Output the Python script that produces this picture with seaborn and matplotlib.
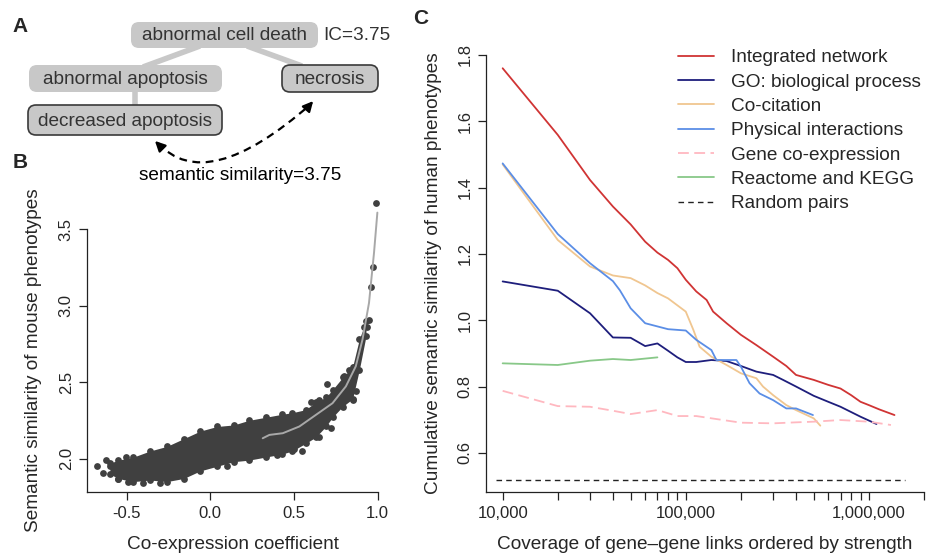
import numpy as np
import pandas as pd
import matplotlib
matplotlib.use("Agg")
import matplotlib.pyplot as plt
import seaborn as sns
from matplotlib.patches import FancyBboxPatch, PathPatch
from matplotlib.path import Path
from matplotlib.ticker import FixedLocator, FixedFormatter, NullFormatter

# ---------------- Panel B data ----------------
core_x = [-0.60, -0.55, -0.46, -0.36, -0.26, -0.16, -0.06, 0.04, 0.14, 0.23, 0.33,
          0.43, 0.49, 0.57, 0.63, 0.69, 0.73, 0.79, 0.85, 0.89, 0.93]
core_lo = [1.90, 1.87, 1.85, 1.86, 1.85, 1.87, 1.92, 1.95, 1.98, 1.99, 2.01,
           2.03, 2.05, 2.10, 2.14, 2.21, 2.27, 2.34, 2.39, 2.58, 2.80]
core_hi = [1.97, 1.99, 2.01, 2.05, 2.08, 2.13, 2.18, 2.21, 2.22, 2.25, 2.27,
           2.29, 2.30, 2.32, 2.37, 2.40, 2.45, 2.53, 2.60, 2.78, 2.90]
out_x = [-0.675, -0.643, -0.623, -0.60, -0.55, -0.49, -0.505, -0.40, -0.30, 0.10,
         0.40, 0.50, 0.55, 0.65, 0.72, 0.60, 0.65, 0.70, 0.80, 0.83, 0.853, 0.869,
         0.86, 0.92, 0.935, 0.948, 0.958, 0.972, 0.988]
out_y = [1.954, 1.904, 1.991, 1.954, 1.870, 1.850, 2.013, 1.840, 1.840, 1.950,
         2.024, 2.061, 2.050, 2.144, 2.200, 2.370, 2.380, 2.489, 2.540, 2.580, 2.384, 2.439,
         2.600, 2.860, 2.860, 2.908, 3.122, 3.251, 3.672]
fit_x = [0.313, 0.353, 0.433, 0.532, 0.631, 0.730, 0.810, 0.869, 0.909, 0.948, 0.978, 0.998]
fit_y = [2.133, 2.155, 2.166, 2.210, 2.286, 2.362, 2.472, 2.603, 2.777, 3.017, 3.345, 3.607]

# ---------------- Panel C data ----------------
int_x = [10000, 20000, 30000, 40000, 50000, 60000, 70000, 80000, 90000, 100000, 114000,
         130000, 141000, 167000, 200000, 243000, 300000, 354000, 400000, 500000, 600000,
         700000, 800000, 900000, 1000000, 1140000, 1380000]
int_y = [1.760, 1.559, 1.423, 1.343, 1.289, 1.237, 1.204, 1.182, 1.157, 1.122, 1.087,
         1.061, 1.026, 0.991, 0.956, 0.925, 0.890, 0.862, 0.835, 0.820, 0.805,
         0.794, 0.774, 0.754, 0.744, 0.731, 0.714]
go_x = [10000, 20000, 30000, 40000, 50000, 60000, 70000, 80000, 90000, 100000, 114000,
        138000, 167000, 200000, 243000, 300000, 340000, 400000, 500000, 600000, 700000,
        900000, 1100000]
go_y = [1.117, 1.089, 1.021, 0.948, 0.947, 0.922, 0.930, 0.908, 0.888, 0.874, 0.874,
        0.880, 0.877, 0.862, 0.845, 0.835, 0.820, 0.800, 0.772, 0.754, 0.739,
        0.709, 0.687]
cocit_x = [10000, 20000, 30000, 40000, 50000, 60000, 70000, 80000, 100000, 110000, 119000,
           138000, 167000, 200000, 243000, 264000, 300000, 354000, 400000, 500000, 543000]
cocit_y = [1.470, 1.242, 1.162, 1.135, 1.127, 1.105, 1.082, 1.066, 1.026, 0.971, 0.920,
           0.890, 0.865, 0.840, 0.825, 0.800, 0.774, 0.744, 0.729, 0.704, 0.682]
phys_x = [10000, 20000, 30000, 40000, 43700, 50000, 60000, 80000, 100000, 114000, 138000,
          147000, 189000, 200000, 223000, 253000, 300000, 354000, 400000, 495000]
phys_y = [1.473, 1.260, 1.172, 1.118, 1.090, 1.036, 0.991, 0.973, 0.969, 0.941, 0.910,
          0.880, 0.880, 0.860, 0.810, 0.779, 0.759, 0.734, 0.734, 0.714]
coexp_x = [10000, 20000, 30000, 40000, 50000, 70000, 90000, 114000, 200000, 300000,
           400000, 500000, 700000, 1000000, 1320000]
coexp_y = [0.787, 0.741, 0.739, 0.727, 0.717, 0.729, 0.711, 0.711, 0.691, 0.689,
           0.692, 0.694, 0.699, 0.694, 0.684]
kegg_x = [10000, 20000, 30000, 40000, 50000, 70000]
kegg_y = [0.870, 0.865, 0.878, 0.883, 0.880, 0.888]
rand_x = [9200, 1570000]
rand_y = [0.517, 0.517]

series_labels = ["Integrated network", "GO: biological process", "Co-citation",
                 "Physical interactions", "Gene co-expression", "Reactome and KEGG",
                 "Random pairs"]
series_colors = ["#d03434", "#1e1e7c", "#f0c690", "#5b8ee6", "#ffb8c0", "#88c888", "#222222"]

x_major = [10000, 100000, 1000000]
x_major_labels = ["10,000", "100,000", "1,000,000"]
c_yticks = [0.6, 0.8, 1.0, 1.2, 1.4, 1.6, 1.8]
b_xticks = [-0.5, 0.0, 0.5, 1.0]
b_yticks = [2.0, 2.5, 3.0, 3.5]

# ---------------- style ----------------
sns.set_style("ticks")
plt.rcParams["font.family"] = ["Liberation Sans", "DejaVu Sans"]
plt.rcParams["axes.unicode_minus"] = False

W, H = 926, 556
fig = plt.figure(figsize=(W / 100, H / 100), dpi=100)

def fx(px):
    return px / W

def fy(py):
    return 1 - py / H

LAB = 13.7
TCK = 12

# ---------------- Panel A (schematic) ----------------
axA = fig.add_axes([0, 0, 1, 1])
axA.set_xlim(0, W)
axA.set_ylim(H, 0)
axA.axis("off")
axA.patch.set_alpha(0)

conn = "#c8c8c8"
for (x0, y0, x1, y1) in [(200, 46, 143, 67), (247, 46, 302, 66), (135, 90, 135, 107)]:
    axA.plot([x0, x1], [y0, y1], color=conn, lw=4, solid_capstyle="butt", zorder=1)

boxes = [
    ("abnormal cell death", 131, 22, 318, 48, False),
    ("abnormal apoptosis", 29, 65, 222, 92, False),
    ("necrosis", 282, 65, 378, 92, True),
    ("decreased apoptosis", 28, 105, 222, 135, True),
]
for txt, x0, y0, x1, y1, edge in boxes:
    p = FancyBboxPatch((x0, y0), x1 - x0, y1 - y0,
                       boxstyle="round,pad=0,rounding_size=8",
                       fc="#c8c8c8", ec="#3a3a3a" if edge else "none",
                       lw=1.2, zorder=2)
    axA.add_patch(p)
    axA.text((x0 + x1) / 2, (y0 + y1) / 2 + 1, txt, ha="center", va="center",
             fontsize=LAB, color="#333333", zorder=3)
axA.text(323, 35, "IC=3.75", ha="left", va="center", fontsize=LAB, color="#333333")

P0, C, P2 = (158, 143), (206, 196), (311, 104)
path = Path([P0, C, P2], [Path.MOVETO, Path.CURVE3, Path.CURVE3])
axA.add_patch(PathPatch(path, fc="none", ec="black", lw=1.6, ls=(0, (3.5, 2.5)), zorder=3))
axA.annotate("", xy=(153, 139), xytext=(160, 146),
             arrowprops=dict(arrowstyle="-|>,head_length=0.6,head_width=0.3", color="black", lw=1.6))
axA.annotate("", xy=(315, 99), xytext=(308, 107),
             arrowprops=dict(arrowstyle="-|>,head_length=0.6,head_width=0.3", color="black", lw=1.6))
axA.text(240, 175, "semantic similarity=3.75", ha="center", va="center", fontsize=LAB, color="black")

fig.text(fx(20), fy(26), "A", fontsize=15, fontweight="bold", ha="center", va="center")
fig.text(fx(20), fy(162), "B", fontsize=15, fontweight="bold", ha="center", va="center")
fig.text(fx(421), fy(18), "C", fontsize=15, fontweight="bold", ha="center", va="center")

# ---------------- Panel B ----------------
bl, br, bt, bb = 87.3, 377.7, 229, 492.3
axB = fig.add_axes([fx(bl), fy(bb), fx(br - bl), (bb - bt) / H])
axB.patch.set_alpha(0)
dark = "#404040"
axB.fill_between(core_x, core_lo, core_hi, color=dark, lw=0, zorder=2)
edge_df = pd.DataFrame({"x": core_x + core_x, "y": core_lo + core_hi})
sns.scatterplot(data=edge_df, x="x", y="y", ax=axB, color=dark, s=24, linewidth=0, zorder=3)
out_df = pd.DataFrame({"x": out_x, "y": out_y})
sns.scatterplot(data=out_df, x="x", y="y", ax=axB, color=dark, s=24, linewidth=0,
                zorder=3, clip_on=False)
fit_df = pd.DataFrame({"x": fit_x, "y": fit_y})
sns.lineplot(data=fit_df, x="x", y="y", ax=axB, color="#a8a8a8", lw=1.4, zorder=4)
for ln in axB.lines:
    ln.set_clip_on(False)
axB.set_xlim(-0.735, 1.0)
axB.set_ylim(1.78, 3.5)
axB.set_xticks(b_xticks)
axB.set_xticklabels(["-0.5", "0.0", "0.5", "1.0"])
axB.set_yticks(b_yticks)
axB.set_yticklabels(["2.0", "2.5", "3.0", "3.5"], rotation=90, va="center")
axB.set_xlabel("Co-expression coefficient", fontsize=LAB)
axB.set_ylabel("Semantic similarity of mouse phenotypes", fontsize=LAB)
axB.xaxis.set_label_coords(0.5, (bb - 536) / (bb - bt))
axB.yaxis.set_label_coords((42 - bl) / (br - bl), 0.5)

# ---------------- Panel C ----------------
cl, cr, ct, cb = 486, 924, 55, 492.3
axC = fig.add_axes([fx(cl), fy(cb), fx(cr - cl), (cb - ct) / H])
axC.patch.set_alpha(0)
axC.set_xscale("log")
all_x = [int_x, go_x, cocit_x, phys_x, coexp_x, kegg_x, rand_x]
all_y = [int_y, go_y, cocit_y, phys_y, coexp_y, kegg_y, rand_y]
for xs, ys, lab, col in zip(all_x, all_y, series_labels, series_colors):
    d = pd.DataFrame({"x": xs, "y": ys})
    lw = 1.3
    if lab == "Gene co-expression":
        sns.lineplot(data=d, x="x", y="y", ax=axC, color=col, lw=lw, label=lab,
                     dashes=False, linestyle=(0, (6, 3, 6, 3)))
    elif lab == "Random pairs":
        sns.lineplot(data=d, x="x", y="y", ax=axC, color=col, lw=1.0, label=lab,
                     linestyle=(0, (4, 3)))
    else:
        sns.lineplot(data=d, x="x", y="y", ax=axC, color=col, lw=lw, label=lab)
axC.set_xlim(10 ** 3.909, 2.0e6)
axC.set_ylim(0.481, 1.8)
axC.xaxis.set_major_locator(FixedLocator(x_major))
axC.xaxis.set_major_formatter(FixedFormatter(x_major_labels))
minors = [m * 10 ** e for e in (4, 5, 6) for m in range(2, 10) if m * 10 ** e <= 2.0e6]
axC.xaxis.set_minor_locator(FixedLocator(minors))
axC.xaxis.set_minor_formatter(NullFormatter())
axC.set_yticks(c_yticks)
axC.set_yticklabels(["0.6", "0.8", "1.0", "1.2", "1.4", "1.6", "1.8"], rotation=90, va="center")
axC.set_xlabel("Coverage of gene\u2013gene links ordered by strength", fontsize=LAB)
axC.set_ylabel("Cumulative semantic similarity of human phenotypes", fontsize=LAB)
axC.xaxis.set_label_coords(0.5, (cb - 536) / (cb - ct))
axC.yaxis.set_label_coords((442 - cl) / (cr - cl), 0.5)
leg = axC.legend(loc="upper left", bbox_to_anchor=(fx(678), fy(49)),
                 bbox_transform=fig.transFigure, frameon=False, fontsize=LAB,
                 handlelength=1.9, handletextpad=0.9, labelspacing=0.37,
                 borderpad=0, borderaxespad=0)

for ax in (axB, axC):
    sns.despine(ax=ax)
    for s in ("left", "bottom"):
        ax.spines[s].set_linewidth(0.9)
        ax.spines[s].set_color("#222222")
    ax.tick_params(axis="both", which="both", length=5.8, width=0.9, color="#222222",
                   labelsize=TCK, pad=4, direction="out")

fig.savefig("out.png", dpi=100)
